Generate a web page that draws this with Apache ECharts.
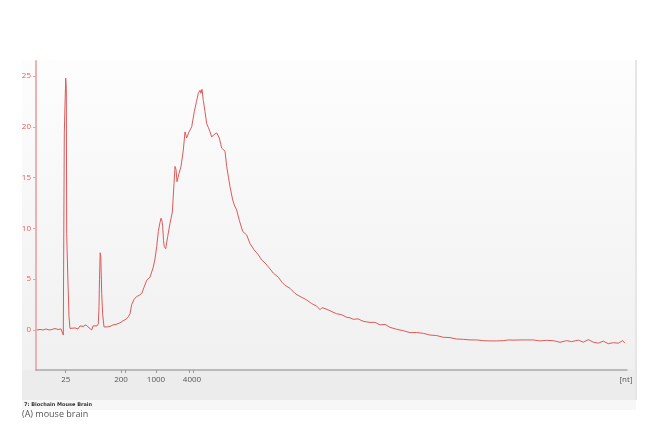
<!DOCTYPE html>
<html>
<head>
<meta charset="utf-8">
<script src="https://cdn.jsdelivr.net/npm/echarts@6/dist/echarts.min.js"></script>
<style>
html,body{margin:0;padding:0;background:#fff;}
#chart{width:645px;height:426px;}
</style>
</head>
<body>
<div id="chart"></div>
<script>
// migration time (arbitrary units) and fluorescence signal
var migrationTime = [1,4,7,10,13,16,19,22,25,26.5,27.3,27.6,28.3,29.7,30.3,30.7,31.7,33,34,36,39,42,44,47,50,52,54,55.7,57,59,61,62.3,63,63.5,64.2,64.8,65.7,66.7,68,70.7,74,77,80,84,87,90.7,92.3,94,95.7,98,100.7,103,105.7,108,110.7,114,117.3,119,120.7,122.3,124,125,126,126.7,127.5,128.3,129.7,131.7,134,136.3,138,139,140,141,143,145,147.3,149,150.7,153,155.7,158.3,160.5,162.3,164,165,166,167.3,169,170.7,172.5,174,175.7,177.5,179,180.7,183.3,185.7,189,190.7,192.5,194,196.7,198.3,200.7,203.3,206.7,210.7,214,218,222.3,225.7,229,233.3,237.3,242.3,246,249,254,259,264,267,270.7,275.7,280.7,284,286,289,294,297,300.7,305.7,310.7,314,317.3,322,326,329,334,339,344,349,354,360.7,367.3,374,380.7,387.3,394,400.7,407.3,414,420.7,427.3,434,440.7,447.3,454,460.7,467.3,472.3,477,484,490.7,497.3,504,510.7,517.3,524,530.7,535.7,542.3,547.3,552.3,557.3,562.3,567.3,572.3,577.3,582.3,586.7,589];
var signal = [0.0,0.05,0.0,0.1,0.0,0.05,0.15,0.05,0.1,0.05,-0.5,5.6,19.4,24.8,23.8,9.5,5.6,1.3,0.15,0.1,0.2,0.1,0.4,0.35,0.5,0.3,0.4,0.0,0.4,0.5,0.4,0.6,2.3,5.0,7.6,7.2,3.6,1.5,0.3,0.3,0.35,0.5,0.55,0.7,0.9,1.1,1.3,1.6,2.5,3.0,3.3,3.4,3.6,4.2,4.9,5.2,6.2,7.0,8.2,9.7,10.6,11.0,10.7,10.2,8.8,8.2,8.0,9.2,10.5,11.6,14.4,16.1,15.8,14.6,15.4,16.1,17.7,19.5,18.9,19.5,20.0,21.5,22.5,23.3,23.6,23.3,23.7,22.6,21.5,20.3,19.9,19.5,19.0,19.2,19.2,19.4,18.9,17.9,17.6,16.1,15.0,14.1,12.8,12.3,11.8,10.8,9.7,9.35,8.5,7.9,7.4,6.9,6.6,6.1,5.6,5.2,4.7,4.4,4.1,3.6,3.3,3.15,2.95,2.6,2.35,2.0,2.2,2.1,1.9,1.75,1.6,1.5,1.25,1.2,1.05,1.1,0.9,0.82,0.75,0.75,0.5,0.55,0.26,0.07,-0.07,-0.26,-0.25,-0.33,-0.5,-0.55,-0.72,-0.75,-0.89,-0.92,-0.98,-0.98,-1.05,-1.08,-1.08,-1.05,-0.98,-1.0,-0.98,-0.98,-0.98,-1.08,-1.02,-1.05,-1.21,-1.05,-1.15,-1.0,-1.2,-0.95,-1.2,-1.3,-1.1,-1.35,-1.25,-1.3,-1.05,-1.3];
// size-ladder tick positions (in migration time) and their labels
var ladderTickTimes = [29.7,85,89,120,153,157];
var ladderLabelTimes = [29.7,85,120,156,590];
var ladderLabels = ['25','200','1000','4000','[nt]'];
var yTickValues = [0,5,10,15,20,25];

var points = migrationTime.map(function(t,i){return [t, signal[i]];});
var chart = echarts.init(document.getElementById('chart'));
chart.setOption({
  animation:false,
  backgroundColor:'#ffffff',
  graphic:[
    {type:'rect', z:-10, shape:{x:22,y:60,width:614,height:310},
     style:{fill:{type:'linear',x:0,y:0,x2:0,y2:1,colorStops:[{offset:0,color:'#fdfdfd'},{offset:1,color:'#f0f0f0'}]}}},
    {type:'rect', z:-10, shape:{x:22,y:370,width:614,height:30}, style:{fill:'#ececec'}},
    {type:'rect', z:-10, shape:{x:22,y:400,width:614,height:10}, style:{fill:'#f7f7f7'}},
    {type:'rect', z:-10, shape:{x:635,y:60,width:2,height:340}, style:{fill:'#e6e6e6'}},
    {type:'text', left:24, top:402, style:{text:'7: Biochain Mouse Brain', fontSize:5, fontWeight:'bold', fill:'#333', fontFamily:'DejaVu Sans'}},
    {type:'text', left:22, top:410, style:{text:'(A) mouse brain', fontSize:9, fill:'#555', fontFamily:'Open Sans'}}
  ],
  grid:{left:36, right:18, top:61, bottom:56},
  xAxis:{
    type:'value', min:0, max:591,
    axisLine:{show:true, onZero:false, lineStyle:{color:'#a8a8a8', width:1.5}},
    axisTick:{show:true, customValues:ladderTickTimes, length:3, lineStyle:{color:'#999'}},
    axisLabel:{show:true, customValues:ladderLabelTimes, margin:6, fontSize:8, color:'#555', fontFamily:'Open Sans',
      formatter:function(v){var i=ladderLabelTimes.indexOf(v);return i>=0?ladderLabels[i]:'';}},
    splitLine:{show:false}
  },
  yAxis:{
    type:'value', min:-3.94, max:26.48,
    axisLine:{show:true, lineStyle:{color:'#eab2b2', width:2}},
    axisTick:{show:true, customValues:yTickValues, length:3, lineStyle:{color:'#e8a0a0'}},
    axisLabel:{show:true, customValues:yTickValues, margin:5, fontSize:8, color:'#e06060', fontFamily:'Open Sans'},
    splitLine:{show:false}
  },
  series:[{
    type:'line', data:points, symbol:'none', smooth:false,
    lineStyle:{color:'#dd5a5a', width:1}
  }]
});
</script>
</body>
</html>
